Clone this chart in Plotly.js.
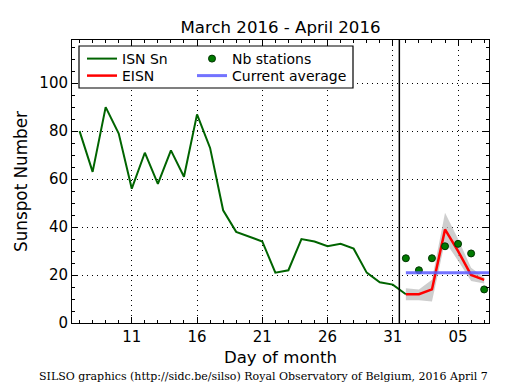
<!DOCTYPE html>
<html><head><meta charset="utf-8">
<script src="https://cdn.plot.ly/plotly-3.0.1.min.js"></script>
<style>html,body{margin:0;padding:0;background:#fff}</style>
</head><body><div id="chart" style="width:515px;height:390px"></div>
<script>
// Days counted from 1 March 2016 (32 = 1 April)
const isnDays = [7,8,9,10,11,12,13,14,15,16,17,18,19,20,21,22,23,24,25,26,27,28,29,30,31,32];
const isnValues = [80,63,90,79,56,71,58,72,61,87,73,47,38,36,34,21,22,35,34,32,33,31,21,17,16,12];
const eisnDays = [32,33,34,35,36,37,38];
const eisnValues = [12,12,14,39,30,20,18];
const eisnUpper = [14.5,14,18,46,35,23,19];
const eisnLower = [9.5,9.5,9,34,26,17.5,16.5];
const nbStations = [27,22,27,32,33,29,14];
const currentAverage = 21;
const avgDays = [32,39];
const separatorDay = 31.5;
const tickDays = [11,16,21,26,31,36];
const tickLabels = ['11','16','21','26','31','05'];

const font = 'DejaVu Sans, sans-serif';
const traces = [
  {x: eisnDays, y: eisnLower, mode:'lines', line:{width:0, color:'rgba(0,0,0,0)'}, showlegend:false, hoverinfo:'skip'},
  {x: eisnDays, y: eisnUpper, mode:'lines', fill:'tonexty', fillcolor:'rgba(190,190,190,0.75)', line:{width:0, color:'rgba(0,0,0,0)'}, showlegend:false, hoverinfo:'skip'},
  {x: isnDays, y: isnValues, mode:'lines', name:'ISN Sn', line:{color:'#006400', width:2}, legend:'legend'},
  {x: eisnDays, y: eisnValues, mode:'lines', name:'EISN', line:{color:'#ff0000', width:2.5}, legend:'legend2'},
  {x: eisnDays, y: nbStations, mode:'markers', name:'Nb stations', marker:{color:'#007a00', size:7, line:{color:'#003300', width:1}}, legend:'legend3'},
  {x: avgDays, y: avgDays.map(() => currentAverage), mode:'lines', name:'Current average', line:{color:'rgba(90,90,255,0.85)', width:3}, legend:'legend4'}
];

const axisCommon = {
  showline:true, linecolor:'black', linewidth:1, mirror:'allticks',
  ticks:'inside', ticklen:6, tickcolor:'black', tickwidth:1,
  showgrid:true, gridcolor:'black', gridwidth:1, griddash:'1px,4px',
  zeroline:false, tickfont:{family:font, size:15, color:'black'}
};

function leg(px, py) {
  return {x:(px-72)/417, y:(323-py)/283, xanchor:'left', yanchor:'top', orientation:'v',
    bgcolor:'rgba(0,0,0,0)', borderwidth:0, traceorder:'normal',
    font:{family:font, size:14, color:'black'}};
}

const layout = {
  width:515, height:390,
  margin:{l:72, r:26, t:40, b:67},
  paper_bgcolor:'white', plot_bgcolor:'white',
  title:{text:'March 2016 - April 2016', font:{family:font, size:16.6, color:'black'}, x:0.5, xref:'paper', y:1-27/390, yref:'container', yanchor:'middle'},
  xaxis: Object.assign({}, axisCommon, {
    range:[6.42, 38.37], tickmode:'array', tickvals:tickDays, ticktext:tickLabels,
    minor:{tickmode:'linear', tick0:0, dtick:1, ticks:'inside', ticklen:3, tickcolor:'black', showgrid:false},
    title:{text:'Day of month', font:{family:font, size:16.6, color:'black'}, standoff:6}
  }),
  yaxis: Object.assign({}, axisCommon, {
    range:[0, 118], tickmode:'linear', tick0:0, dtick:20,
    minor:{tickmode:'linear', tick0:0, dtick:5, ticks:'inside', ticklen:3, tickcolor:'black', showgrid:false},
    title:{text:'Sunspot Number', font:{family:font, size:16.8, color:'black'}, standoff:7}
  }),
  showlegend:true,
  legend: leg(82, 43),
  legend2: leg(82, 60),
  legend3: leg(192, 43),
  legend4: leg(192, 60),
  shapes:[
    {type:'line', xref:'x', yref:'paper', x0:separatorDay, x1:separatorDay, y0:0, y1:1, line:{color:'black', width:1.5}, layer:'above'},
    {type:'rect', xref:'paper', yref:'paper', x0:(79-72)/417, x1:(353-72)/417, y0:(323-88)/283, y1:(323-46)/283, fillcolor:'white', line:{color:'black', width:1.2}, layer:'above'}
  ],
  annotations:[
    {text:'SILSO graphics (http://sidc.be/silso) Royal Observatory of Belgium, 2016 April 7', xref:'paper', yref:'paper', x:(263.5-72)/417, y:(323-376)/283, xanchor:'center', yanchor:'middle', showarrow:false, font:{family:'DejaVu Serif, serif', size:11, color:'black'}}
  ]
};

Plotly.newPlot('chart', traces, layout, {displayModeBar:false, staticPlot:true});
</script></body></html>
